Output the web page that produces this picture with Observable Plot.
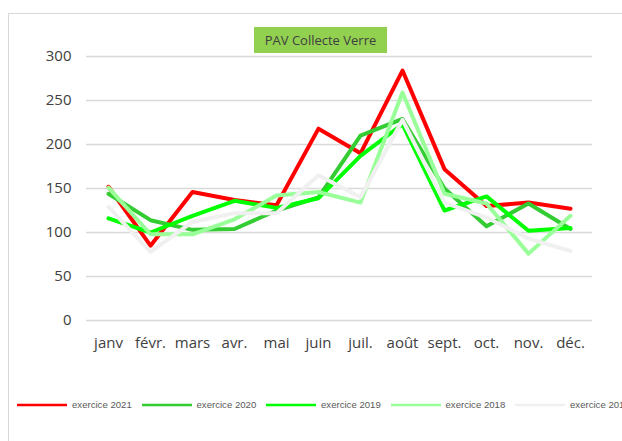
<!DOCTYPE html>
<html>
<head>
<meta charset="utf-8">
<script src="https://cdn.jsdelivr.net/npm/d3@7"></script>
<script src="https://cdn.jsdelivr.net/npm/@observablehq/plot@0.6"></script>
<style>
  html, body { margin: 0; padding: 0; background: #fff; }
  body { width: 622px; height: 441px; overflow: hidden; position: relative; font-family: "Open Sans", sans-serif; }
  #frame { position: absolute; left: 8px; top: 13px; width: 700px; height: 500px; border: 1.5px solid #d9d9d9; box-sizing: border-box; }
  #chart { position: absolute; left: 0; top: 0; }
  #title { position: absolute; left: 254px; top: 27px; width: 133px; height: 26px; background: #92d050; color: #404040;
           font-size: 13px; line-height: 26px; text-align: center; font-family: "Open Sans", sans-serif; }
  #legend { position: absolute; left: 17px; top: 399px; display: flex; white-space: nowrap; font-size: 9.6px; color: #595959; font-family: "Liberation Sans", sans-serif; }
  .item { width: 124.5px; display: flex; align-items: center; flex: none; }
  .item svg { margin-right: 5px; }
</style>
</head>
<body>
<div id="frame"></div>
<div id="chart"></div>
<div id="title">PAV Collecte Verre</div>
<div id="legend"></div>
<script>
const months = ["janv", "févr.", "mars", "avr.", "mai", "juin", "juil.", "août", "sept.", "oct.", "nov.", "déc."];
const seriesNames = ["exercice 2021", "exercice 2020", "exercice 2019", "exercice 2018", "exercice 2017"];
const seriesColors = ["#ff0000", "#33cc33", "#00ff00", "#99ff99", "#f0f0f0"];
const v2021 = [152, 85, 146, 137, 131, 218, 190, 284, 172, 130, 134, 127];
const v2020 = [144, 114, 103, 104, 125, 140, 210, 229, 150, 107, 133, 104];
const v2019 = [116, 100, 119, 136, 128, 139, 187, 223, 125, 141, 102, 105];
const v2018 = [151, 98, 98, 115, 142, 146, 134, 259, 144, 133, 76, 119];
const v2017 = [129, 78, 112, 122, 122, 165, 140, 228, 134, 117, 93, 79];
const yTicks = [0, 50, 100, 150, 200, 250, 300];

const allValues = [v2021, v2020, v2019, v2018, v2017];
const data = [];
seriesNames.forEach((s, i) => months.forEach((m, j) => data.push({series: s, month: m, value: allValues[i][j]})));

const plot = Plot.plot({
  width: 622,
  height: 360,
  marginLeft: 86,
  marginRight: 30,
  marginTop: 56,
  marginBottom: 40,
  style: {fontFamily: "'Open Sans', sans-serif", fontSize: "15px", color: "#404040", background: "transparent"},
  x: {type: "point", domain: months, padding: 0.5, label: null},
  y: {domain: [0, 300], label: null},
  color: {domain: seriesNames, range: seriesColors},
  marks: [
    Plot.ruleY(yTicks, {stroke: "#d9d9d9", strokeWidth: 1.3}),
    Plot.axisY(yTicks, {tickSize: 0, tickPadding: 15, label: null, fontSize: 15}),
    Plot.axisX({tickSize: 0, tickPadding: 17, label: null, fontSize: 15}),
    Plot.line(data, {x: "month", y: "value", z: "series", stroke: "series", strokeWidth: 4, strokeLinejoin: "round", strokeLinecap: "round"})
  ]
});
document.getElementById("chart").appendChild(plot);

const legend = document.getElementById("legend");
seriesNames.forEach((s, i) => {
  const item = document.createElement("div");
  item.className = "item";
  item.innerHTML = `<svg width="50" height="4"><line x1="0" y1="2" x2="50" y2="2" stroke="${seriesColors[i]}" stroke-width="2.5"/></svg><span>${s}</span>`;
  legend.appendChild(item);
});
</script>
</body>
</html>
